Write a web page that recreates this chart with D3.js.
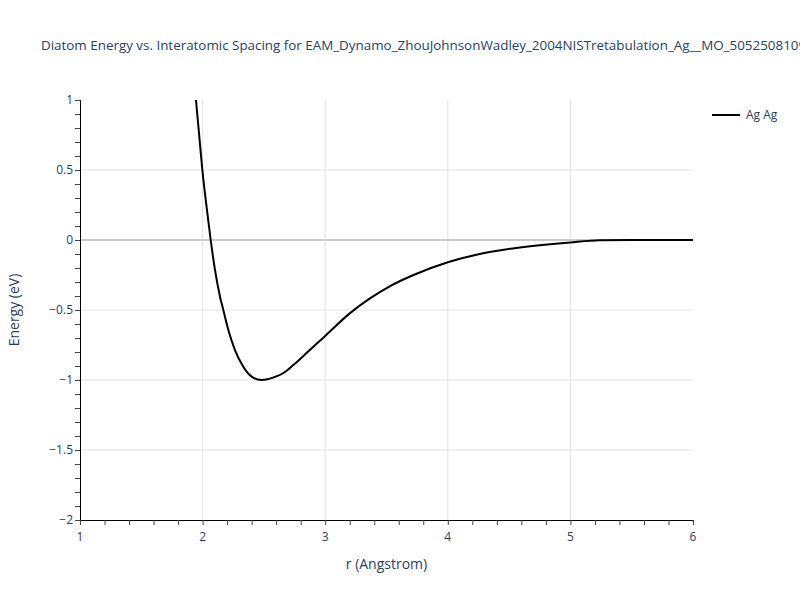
<!DOCTYPE html>
<html>
<head>
<meta charset="utf-8">
<script src="https://cdn.jsdelivr.net/npm/d3@7"></script>
<style>
  body { margin: 0; background: #fff; }
  svg { font-family: "Open Sans", verdana, arial, sans-serif; }
</style>
</head>
<body>
<div id="canvas"></div>
<script>
// DATA ========================================================================

var TITLE = "Diatom Energy vs. Interatomic Spacing for EAM_Dynamo_ZhouJohnsonWadley_2004NISTretabulation_Ag__MO_505250810966_000"

var SERIES_NAME = "Ag Ag"

var R = [1.92, 1.946, 1.972, 1.998, 2.032, 2.066, 2.101, 2.142, 2.169, 2.21, 2.264, 2.332, 2.40,
    2.48, 2.53, 2.577, 2.66, 2.74, 2.82, 3.0, 3.2, 3.365, 3.53, 3.72, 4.0, 4.26, 4.53, 5.0, 5.24, 5.5, 6.0]

var ENERGY = [1.25, 1.0, 0.75, 0.5, 0.24, 0.0, -0.214, -0.405, -0.5, -0.643, -0.786, -0.905, -0.976,
    -1.0, -0.995, -0.982, -0.95, -0.893, -0.83, -0.685, -0.524, -0.417, -0.329, -0.25, -0.159, -0.1, -0.06, -0.017, -0.002, 0.0, 0.0]

var X_TICKS = [1, 2, 3, 4, 5, 6]
var Y_TICKS = [1, 0.5, 0, -0.5, -1, -1.5, -2]

// LAYOUT ======================================================================

var WIDTH = 800
var HEIGHT = 600
var MARGIN = { left: 80, right: 107, top: 100, bottom: 80 }
var TEXT_COLOR = "#2a3f5f"

function translate(x, y) {
    return "translate(" + x + "," + y + ")"
}

function fmt(v) {
    return String(v).replace("-", "\u2212")
}

// SVG GENERATOR ===============================================================

var SVG = d3.select("#canvas").append("svg")
    .attr("width", WIDTH)
    .attr("height", HEIGHT)

var W = WIDTH - MARGIN.left - MARGIN.right
var H = HEIGHT - MARGIN.top - MARGIN.bottom

var xscale = d3.scaleLinear().domain([1, 6]).range([0, W])
var yscale = d3.scaleLinear().domain([-2, 1]).range([H, 0])

var G = SVG.append("g").attr("transform", translate(MARGIN.left, MARGIN.top))

// Grid lines.
G.append("g").selectAll("line")
    .data(X_TICKS.filter(d => d > 1 && d < 6)).enter()
    .append("line")
        .attr("x1", d => xscale(d)).attr("x2", d => xscale(d))
        .attr("y1", 0).attr("y2", H)
        .attr("stroke", "#e4e4e4")
        .attr("stroke-width", 1)

G.append("g").selectAll("line")
    .data(Y_TICKS.filter(d => d > -2 && d < 1)).enter()
    .append("line")
        .attr("x1", 0).attr("x2", W)
        .attr("y1", d => yscale(d)).attr("y2", d => yscale(d))
        .attr("stroke", d => d === 0 ? "#cccccc" : "#e4e4e4")
        .attr("stroke-width", d => d === 0 ? 2 : 1)

// Curve, clipped to the plot area.
G.append("clipPath")
    .attr("id", "clip-plot")
    .append("rect")
        .attr("width", W)
        .attr("height", H)

var line = d3.line()
    .x(d => xscale(d[0]))
    .y(d => yscale(d[1]))
    .curve(d3.curveMonotoneX)

G.append("path")
    .datum(R.map((r, i) => [r, ENERGY[i]]))
    .attr("clip-path", "url(#clip-plot)")
    .attr("fill", "none")
    .attr("stroke", "#000")
    .attr("stroke-width", 2)
    .attr("d", line)

// Axes.
var xaxis = G.append("g").attr("transform", translate(0, H))
    .call(d3.axisBottom(xscale).ticks(25).tickSize(5).tickFormat(""))
xaxis.select(".domain").attr("stroke", "#000").attr("d", "M0.5,0.5H" + W)
xaxis.selectAll(".tick line").attr("stroke", "#444")

var yaxis = G.append("g")
    .call(d3.axisLeft(yscale).ticks(30).tickSize(5).tickFormat(""))
yaxis.select(".domain").attr("stroke", "#000").attr("d", "M0.5,0V" + H)
yaxis.selectAll(".tick line").attr("stroke", "#444")

G.append("g").selectAll("text")
    .data(X_TICKS).enter()
    .append("text")
        .text(d => d)
        .attr("x", d => xscale(d))
        .attr("y", H + 21)
        .attr("text-anchor", "middle")
        .attr("font-size", "12px")
        .attr("fill", TEXT_COLOR)

G.append("g").selectAll("text")
    .data(Y_TICKS).enter()
    .append("text")
        .text(d => fmt(d))
        .attr("x", -7)
        .attr("y", d => yscale(d) + 4)
        .attr("text-anchor", "end")
        .attr("font-size", "12px")
        .attr("fill", TEXT_COLOR)

// Axis titles.
SVG.append("text")
    .text("r (Angstrom)")
    .attr("x", MARGIN.left + W/2)
    .attr("y", 569)
    .attr("text-anchor", "middle")
    .attr("font-size", "14px")
    .attr("fill", TEXT_COLOR)

SVG.append("text")
    .text("Energy (eV)")
    .attr("transform", translate(19, MARGIN.top + H/2) + " rotate(-90)")
    .attr("text-anchor", "middle")
    .attr("font-size", "14px")
    .attr("fill", TEXT_COLOR)

// Title.
SVG.append("text")
    .text(TITLE)
    .attr("x", 41)
    .attr("y", 50)
    .attr("font-size", "13.4px")
    .attr("fill", TEXT_COLOR)

// Legend.
var legend = SVG.append("g").attr("transform", translate(712, 115))
legend.append("line")
    .attr("x1", 0).attr("x2", 28)
    .attr("stroke", "#000")
    .attr("stroke-width", 2)
legend.append("text")
    .text(SERIES_NAME)
    .attr("x", 34)
    .attr("y", 4)
    .attr("font-size", "12px")
    .attr("fill", TEXT_COLOR)
</script>
</body>
</html>
